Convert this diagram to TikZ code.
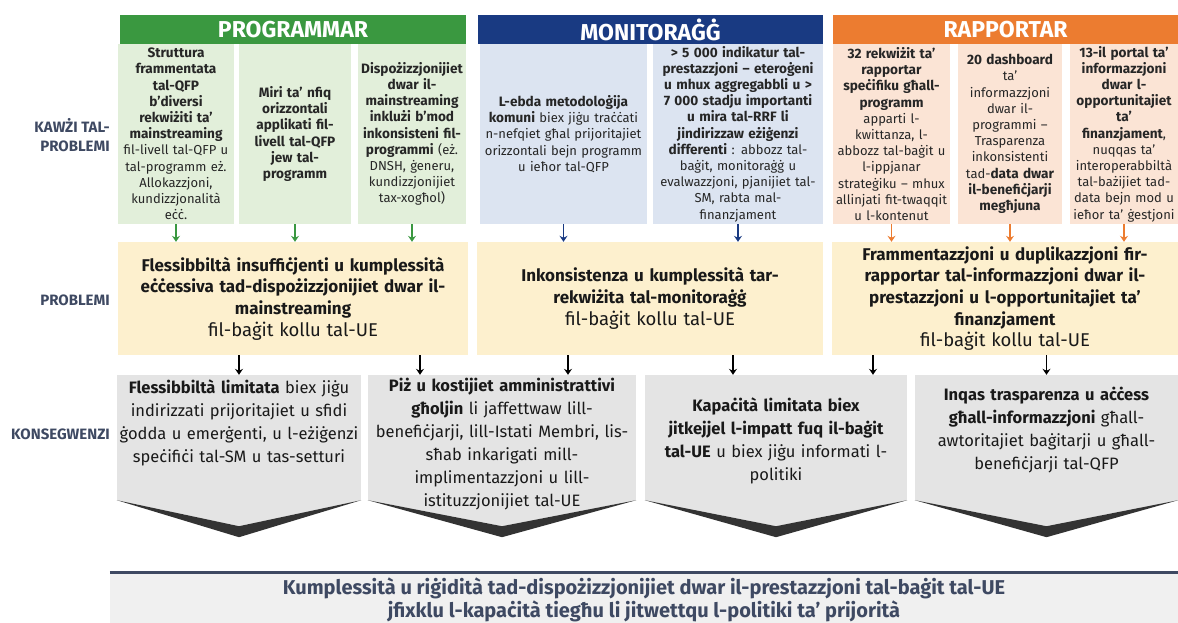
\documentclass[tikz,border=0pt]{standalone}
\usepackage{fontspec}
\setmainfont{Fira Sans}
\usetikzlibrary{positioning,calc,arrows.meta}
\definecolor{progdark}{RGB}{58,152,64}
\definecolor{proglight}{RGB}{226,239,218}
\definecolor{mondark}{RGB}{25,58,130}
\definecolor{monlight}{RGB}{220,228,241}
\definecolor{rapdark}{RGB}{236,124,48}
\definecolor{raplight}{RGB}{251,228,213}
\definecolor{problight}{RGB}{253,240,206}
\definecolor{kongray}{RGB}{228,228,228}
\definecolor{slate}{RGB}{62,73,98}
\tikzstyle{header} = [rectangle, minimum height=29pt, inner sep=0pt, text=white, font=\fontsize{23}{26}\selectfont\bfseries]
\tikzstyle{cause} = [rectangle, minimum height=180pt, inner xsep=1pt, inner ysep=0pt, align=center, text=black!85, font=\fontsize{13}{16.2}\selectfont]
\tikzstyle{problem} = [rectangle, fill=problight, minimum height=113pt, inner xsep=2pt, align=center, text=black!90, font=\fontsize{17}{21.7}\selectfont]
\tikzstyle{konsbody} = [rectangle, fill=kongray, minimum height=125pt, inner sep=0pt]
\tikzstyle{konstext} = [align=center, inner sep=0pt, text=black!90, font=\fontsize{16.5}{23}\selectfont]
\tikzstyle{rowlabel} = [align=right, anchor=east, inner sep=0pt, text=slate, font=\fontsize{15}{18.5}\selectfont\bfseries]
\tikzstyle{progarrow} = [line width=1.6pt, progdark, -{Stealth[length=6pt,width=8pt]}]
\tikzstyle{monarrow} = [line width=1.6pt, mondark, -{Stealth[length=6pt,width=8pt]}]
\tikzstyle{raparrow} = [line width=1.6pt, rapdark, -{Stealth[length=6pt,width=8pt]}]
\tikzstyle{konsarrow} = [line width=1.5pt, black, -{Stealth[length=6pt,width=8pt]}]
\newcommand{\budgetline}{{\fontsize{18.5}{21.7}\selectfont fil-baġit kollu tal-UE}}
\newcommand{\cb}[1]{{\fontsize{13.6}{16.2}\selectfont\bfseries #1}}

\begin{document}
\begin{tikzpicture}[x=1pt,y=-1pt]
\useasboundingbox (0,0) rectangle (1178,623);
% row labels
\node (lkawzi) at (110,135) [rowlabel] {KAWŻI TAL-\\PROBLEMI};
\node (lprob) at (110,300) [rowlabel] {PROBLEMI};
\node (lkons) at (110,434) [rowlabel] {KONSEGWENZI};
%
\node (hprog) at (293,29.5) [header, fill=progdark, minimum width=346pt] {PROGRAMMAR};
\node (hmon) at (650.5,29.5) [header, fill=mondark, minimum width=345pt] {MONITORAĠĠ};
\node (hrap) at (1005.5,29.5) [header, fill=rapdark, minimum width=345pt] {RAPPORTAR};
%
\node (c1) at (176,134) [cause, fill=proglight, text width=114pt] {\cb{Struttura\\frammentata\\tal-QFP\\b’diversi\\rekwiżiti ta’\\mainstreaming}\\fil-livell tal-QFP u\\tal-programm eż.\\Allokazzjoni,\\kundizzjonalità\\eċċ.};
%
\node (c2) at (295,134) [cause, fill=proglight, text width=110pt] {\cb{Miri ta’ nfiq\\orizzontali\\applikati fil-\\livell tal-QFP\\jew tal-\\programm}};
%
\node (c3) at (412,134) [cause, fill=proglight, text width=106pt] {\cb{Dispożizzjonijiet\\dwar il-\\mainstreaming\\inklużi b’mod\\inkonsisteni fil-\\programmi} (eż.\\DNSH, ġeneru,\\kundizzjonijiet\\tax-xogħol)};
%
\node (c4) at (563.5,134) [cause, fill=monlight, text width=165pt] {\cb{L-ebda metodoloġija\\komuni} biex jiġu traċċati\\n-nefqiet għal prijoritajiet\\orizzontali bejn programm\\u ieħor tal-QFP};
%
\node (c5) at (738,134) [cause, fill=monlight, text width=168pt] {\cb{> 5 000 indikatur tal-\\prestazzjoni – eteroġeni\\u mhux aggregabbli u >\\7 000 stadju importanti\\u mira tal-RRF li\\jindirizzaw eżiġenzi\\differenti} : abbozz tal-\\baġit, monitoraġġ u\\evalwazzjoni, pjanijiet tal-\\SM, rabta mal-\\finanzjament};
%
\node (c6) at (891.5,134) [cause, fill=raplight, text width=115pt] {\cb{32 rekwiżit ta’\\rapportar\\speċifiku għall-\\programm}\\apparti l-\\kwittanza, l-\\abbozz tal-baġit u\\l-ippjanar\\strateġiku – mhux\\allinjati fit-twaqqit\\u l-kontenut};
%
\node (c7) at (1010,134) [cause, fill=raplight, text width=102pt] {\cb{20 dashboard}\\ta’\\informazzjoni\\dwar il-\\programmi –\\Trasparenza\\inkonsistenti\\tad-\cb{data dwar\\il-benefiċjarji\\megħjuna}};
%
\node (c8) at (1124,134) [cause, fill=raplight, text width=106pt] {\cb{13-il portal ta’\\informazzjoni\\dwar l-\\opportunitajiet\\ta’\\finanzjament},\\nuqqas ta’\\interoperabbiltà\\tal-bażijiet tad-\\data bejn mod u\\ieħor ta’ ġestjoni};
%
\node (p1) at (293,298.5) [problem, text width=346pt] {\textbf{Flessibbiltà insuffiċjenti u kumplessità\\eċċessiva tad-dispożizzjonijiet dwar il-\\mainstreaming}\\\budgetline};
%
\node (p2) at (650,298.5) [problem, text width=342pt] {\textbf{Inkonsistenza u kumplessità tar-\\rekwiżita tal-monitoraġġ}\\\budgetline};
%
\node (p3) at (1005,298.5) [problem, text width=342pt] {\textbf{Frammentazzjoni u duplikazzjoni fir-\\rapportar tal-informazzjoni dwar il-\\prestazzjoni u l-opportunitajiet ta’\\finanzjament}\\\budgetline};
%
\node (k1) at (239,437.5) [konsbody, minimum width=244pt] {};
\node (k2) at (502,437.5) [konsbody, minimum width=268pt] {};
\node (k3) at (776,437.5) [konsbody, minimum width=262pt] {};
\node (k4) at (1046.5,437.5) [konsbody, minimum width=263pt] {};
\foreach \k in {k1,k2,k3,k4} {
  \fill [kongray] (\k.south west) -- ($(\k.south)+(0,26)$) -- (\k.south east) -- cycle;
  \fill [black!80] (\k.south west) -- ($(\k.south)+(0,26)$) -- (\k.south east) -- ($(\k.south)+(0,37)$) -- cycle;
}
%
\node (k1t) at (239,423) [konstext, text width=240pt] {\textbf{Flessibbiltà limitata} biex jiġu\\indirizzati prijoritajiet u sfidi\\ġodda u emerġenti, u l-eżiġenzi\\speċifiċi tal-SM u tas-setturi};
\node (k2t) at (502,444) [konstext, text width=264pt] {\textbf{Piż u kostijiet amministrattivi\\għoljin} li jaffettwaw lill-\\benefiċjarji, lill-Istati Membri, lis-\\sħab inkarigati mill-\\implimentazzjoni u lill-\\istituzzjonijiet tal-UE};
\node (k3t) at (776,441) [konstext, text width=258pt] {\textbf{Kapaċità limitata biex\\jitkejjel l-impatt fuq il-baġit\\tal-UE} u biex jiġu informati l-\\politiki};
\node (k4t) at (1046.5,430) [konstext, text width=259pt] {\textbf{Inqas trasparenza u aċċess\\għall-informazzjoni} għall-\\awtoritajiet baġitarji u għall-\\benefiċjarji tal-QFP};
%
\node (konkl) at (644,600) [rectangle, fill=black!6, minimum width=1068pt, minimum height=54pt, align=center, text=slate, font=\fontsize{20}{22.5}\selectfont\bfseries] {Kumplessità u riġidità tad-dispożizzjonijiet dwar il-prestazzjoni tal-baġit tal-UE\\jfixklu l-kapaċità tiegħu li jitwettqu l-politiki ta’ prijorità};
\draw [slate, line width=3pt] (konkl.north west) -- (konkl.north east);
%
\draw [progarrow] (c1.south) -- (c1.south |- p1.north);
\draw [progarrow] (c2.south) -- (c2.south |- p1.north);
\draw [progarrow] (c3.south) -- (c3.south |- p1.north);
\draw [monarrow] (c4.south) -- (c4.south |- p2.north);
\draw [monarrow] (c5.south) -- (c5.south |- p2.north);
\draw [raparrow] (c6.south) -- (c6.south |- p3.north);
\draw [raparrow] (c7.south) -- (c7.south |- p3.north);
\draw [raparrow] (c8.south) -- (c8.south |- p3.north);
%
\coordinate (a2) at (420,0);
\coordinate (a3) at (568,0);
\coordinate (a4) at (733,0);
\coordinate (a5) at (873,0);
\draw [konsarrow] (p1.south -| k1.north) -- (k1.north);
\draw [konsarrow] (p1.south -| a2) -- (k2.north -| a2);
\draw [konsarrow] (p2.south -| a3) -- (k2.north -| a3);
\draw [konsarrow] (p2.south -| a4) -- (k3.north -| a4);
\draw [konsarrow] (p3.south -| a5) -- (k3.north -| a5);
\draw [konsarrow] (p3.south -| k4.north) -- (k4.north);

\end{tikzpicture}
\end{document}
